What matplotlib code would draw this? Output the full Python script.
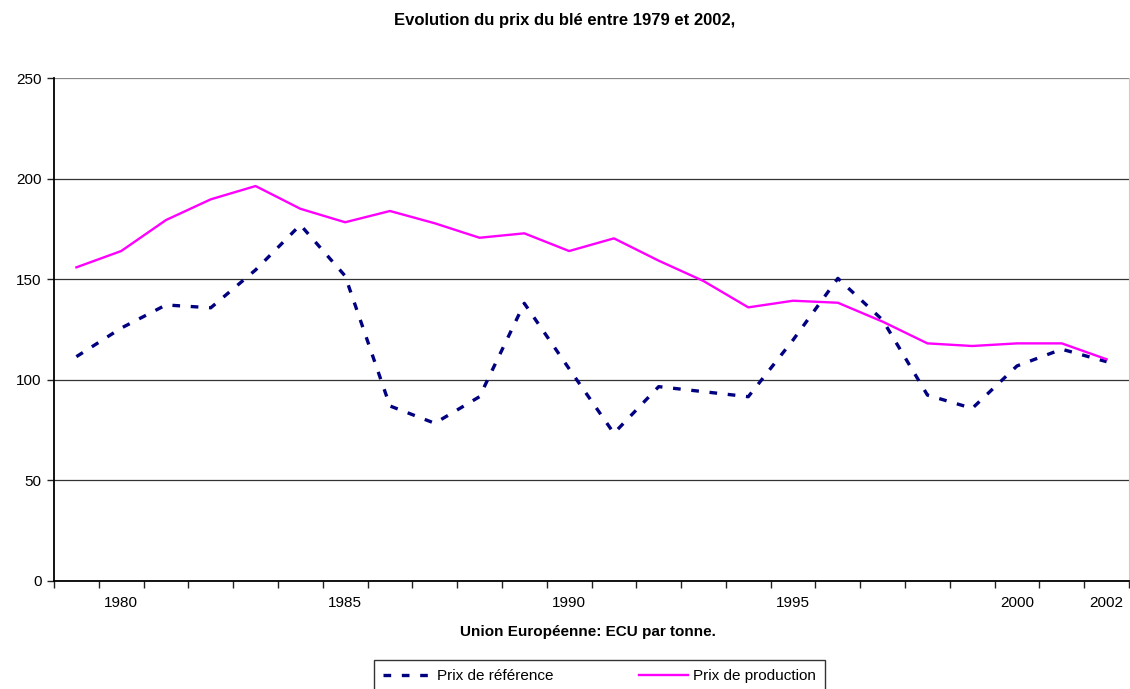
import matplotlib
matplotlib.use("Agg")
import matplotlib.pyplot as plt
import numpy as np

plt.rcParams["font.family"] = ["Liberation Sans", "DejaVu Sans"]

years = list(range(1979, 2003))
prix_reference = [111.5, 125.7, 137.2, 135.8, 154.6, 177.0, 151.6, 87.0, 78.4, 91.6,
                  138.0, 105.5, 73.4, 96.6, 94.1, 91.6, 119.8, 150.4, 129.7, 92.4,
                  85.8, 106.9, 115.2, 109.0]
prix_production = [155.9, 164.0, 179.4, 189.7, 196.3, 185.0, 178.3, 183.9, 177.8, 170.6,
                   172.8, 164.0, 170.3, 159.2, 149.1, 136.0, 139.3, 138.3, 128.9, 118.1,
                   116.8, 118.1, 118.1, 110.2]
label_years = [1980, 1985, 1990, 1995, 2000, 2002]

W, H = 1130, 689
fig = plt.figure(figsize=(W / 100, H / 100), dpi=100)
ax = fig.add_axes([54 / W, (H - 581) / H, (1129 - 54) / W, (581 - 78) / H])

x = np.arange(len(years))
ax.plot(x, prix_reference, color="#000080", lw=2.4, linestyle=(0, (2.3, 3.2)),
        label="Prix de r\u00e9f\u00e9rence")
ax.plot(x, prix_production, color="#FF00FF", lw=1.7, label="Prix de production")

ax.set_xlim(-0.5, len(years) - 0.5)
ax.set_ylim(0, 250)
ax.set_yticks([0, 50, 100, 150, 200, 250])
ax.yaxis.grid(True, color="#333333", lw=0.9)
ax.set_axisbelow(True)
ax.get_ygridlines()[-1].set_color("#888888")

# ticks between categories, labels on selected categories
ax.set_xticks(np.arange(-0.5, len(years) + 0.5, 1.0))
ax.set_xticklabels([])
ax.set_xticks([years.index(y) for y in label_years], minor=True)
ax.set_xticklabels([str(y) for y in label_years], minor=True)
ax.tick_params(axis="x", which="major", length=5, width=1, color="#222222")
ax.tick_params(axis="x", which="minor", length=0, pad=11, labelsize=11)
ax.tick_params(axis="y", length=5, width=1, color="#222222", labelsize=11, pad=4)

ax.spines["top"].set_visible(False)
ax.spines["right"].set_color("#cccccc")
ax.spines["left"].set_linewidth(1.3)
ax.spines["bottom"].set_linewidth(1.3)

fig.text(565 / W, 1 - 20 / H, "Evolution du prix du bl\u00e9 entre 1979 et 2002,",
         ha="center", va="center", fontsize=12, fontweight="bold")
fig.text(588 / W, 1 - 632 / H, "Union Europ\u00e9enne: ECU par tonne.",
         ha="center", va="center", fontsize=11, fontweight="bold")

leg = fig.legend(loc="upper left", bbox_to_anchor=(374 / W, 0, 451 / W, (H - 660) / H),
                 bbox_transform=fig.transFigure, mode="expand", ncol=2,
                 fontsize=11, frameon=True, fancybox=False, edgecolor="black",
                 handlelength=3.2, handletextpad=0.3, borderpad=0.6, borderaxespad=0)
leg.get_frame().set_linewidth(1.0)

fig.savefig("out.png", dpi=100)
